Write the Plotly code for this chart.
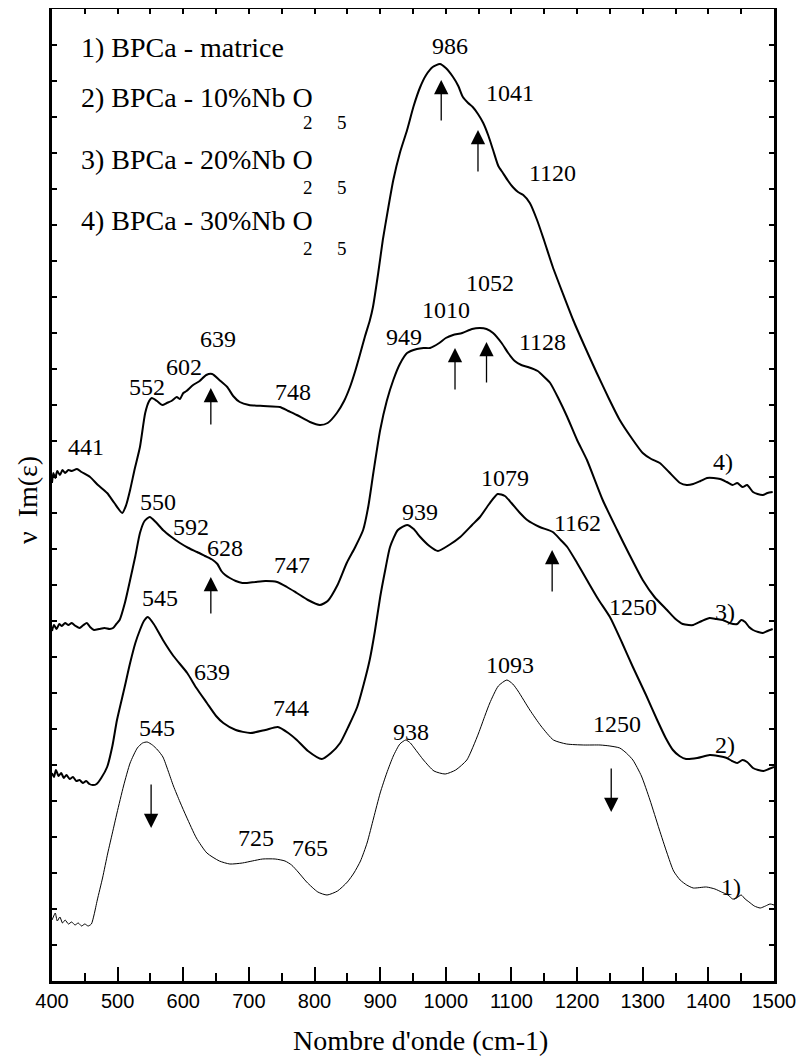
import plotly.graph_objects as go

# ---------------- data (wavenumber cm-1, intensity a.u.) ----------------
x1 = [400, 402, 405, 408, 412, 416, 420, 425, 430, 435, 440, 445, 450, 455, 460, 464, 469, 477, 485, 492, 499, 509, 519, 530, 538, 545, 553, 561, 569, 577, 585, 595, 605, 620, 636, 655, 671, 690, 705, 721, 740, 755, 765, 775, 788, 805, 819, 835, 850, 860, 870, 880, 890, 900, 910, 920, 930, 939, 946, 952, 966, 982, 999, 1015, 1032, 1042, 1050, 1060, 1067, 1080, 1093, 1102, 1110, 1128, 1145, 1164, 1184, 1210, 1235, 1250, 1265, 1275, 1285, 1298, 1311, 1325, 1337, 1347, 1357, 1367, 1377, 1397, 1410, 1420, 1430, 1437, 1443, 1450, 1456, 1462, 1470, 1479, 1487, 1494, 1500]
y1 = [61, 64, 68, 60, 64, 58, 61, 57, 59, 56, 58, 55, 57, 55, 57, 66, 81, 103, 128, 148, 168, 195, 218, 233, 238, 239, 236, 231, 224, 210, 195, 179, 164, 143, 128, 120, 117, 118, 120, 122, 122, 120, 116, 109, 99, 89, 86, 90, 99, 108, 120, 138, 163, 188, 208, 225, 237, 241, 238, 233, 221, 210, 207, 211, 221, 235, 248, 266, 278, 295, 301, 297, 290, 271, 255, 241, 237, 236, 236, 235, 233, 228, 221, 205, 181, 152, 128, 110, 101, 96, 93, 94, 92, 89, 86, 82, 83, 86, 82, 79, 75, 73, 75, 77, 76]

x2 = [400, 403, 406, 410, 414, 418, 422, 427, 432, 437, 442, 447, 452, 457, 462, 468, 475, 484, 492, 499, 510, 519, 527, 534, 540, 546, 555, 569, 585, 606, 620, 636, 650, 661, 680, 702, 725, 744, 760, 773, 790, 811, 825, 839, 852, 865, 875, 884, 892, 900, 908, 915, 927, 941, 951, 961, 975, 988, 1005, 1022, 1040, 1052, 1066, 1079, 1090, 1100, 1113, 1124, 1143, 1163, 1175, 1185, 1200, 1215, 1232, 1250, 1268, 1285, 1305, 1322, 1335, 1346, 1356, 1366, 1383, 1402, 1415, 1428, 1436, 1444, 1452, 1459, 1468, 1476, 1484, 1492, 1500]
y2 = [208, 204, 211, 205, 208, 203, 206, 202, 204, 200, 201, 198, 200, 197, 196, 197, 203, 214, 235, 261, 292, 318, 338, 351, 360, 364, 357, 341, 325, 308, 293, 278, 265, 258, 251, 248, 251, 254, 248, 241, 230, 222, 228, 238, 255, 274, 297, 321, 350, 384, 412, 434, 451, 456, 452, 444, 435, 430, 436, 444, 456, 464, 477, 487, 485, 478, 468, 461, 454, 449, 441, 434, 418, 401, 382, 364, 339, 314, 286, 261, 243, 231, 225, 222, 223, 226, 225, 223, 220, 218, 221, 219, 213, 211, 210, 212, 214]

x3 = [400, 403, 407, 411, 415, 420, 425, 430, 436, 442, 448, 453, 458, 464, 472, 480, 488, 493, 498, 503, 511, 519, 527, 534, 541, 549, 558, 569, 582, 595, 608, 621, 633, 645, 652, 658, 664, 671, 680, 690, 697, 710, 725, 743, 758, 773, 790, 808, 820, 835, 849, 862, 874, 882, 890, 900, 910, 920, 930, 941, 956, 966, 976, 990, 1000, 1011, 1025, 1040, 1052, 1062, 1072, 1085, 1095, 1105, 1115, 1125, 1140, 1150, 1159, 1172, 1185, 1200, 1215, 1239, 1261, 1280, 1300, 1318, 1337, 1350, 1361, 1370, 1377, 1390, 1402, 1412, 1422, 1432, 1444, 1450, 1456, 1462, 1468, 1476, 1483, 1490, 1498]
y3 = [350, 356, 352, 357, 355, 358, 356, 358, 355, 353, 356, 358, 354, 351, 352, 353, 352, 353, 357, 361, 378, 401, 425, 448, 460, 464, 459, 451, 444, 438, 433, 429, 425, 421, 417, 410, 406, 403, 400, 398, 398, 399, 400, 399, 394, 388, 381, 376, 380, 396, 418, 434, 451, 475, 510, 551, 580, 601, 617, 628, 632, 633, 633, 638, 643, 646, 648, 652, 653, 652, 648, 638, 628, 620, 616, 614, 610, 604, 598, 582, 564, 541, 521, 481, 451, 426, 401, 384, 371, 362, 357, 356, 356, 360, 363, 362, 361, 358, 357, 361, 359, 354, 351, 349, 348, 350, 352]

x4 = [400, 402, 405, 408, 412, 416, 420, 425, 430, 438, 445, 458, 470, 484, 495, 507, 513, 519, 526, 534, 542, 548, 552, 560, 568, 575, 582, 590, 595, 600, 605, 615, 625, 635, 644, 655, 667, 676, 686, 700, 722, 747, 760, 773, 793, 808, 820, 834, 845, 854, 862, 869, 877, 884, 889, 897, 904, 912, 920, 930, 941, 951, 961, 970, 980, 991, 1000, 1011, 1019, 1026, 1034, 1041, 1049, 1057, 1065, 1072, 1080, 1087, 1095, 1102, 1110, 1118, 1128, 1139, 1150, 1163, 1178, 1194, 1212, 1230, 1248, 1265, 1283, 1300, 1313, 1326, 1340, 1357, 1367, 1377, 1388, 1398, 1408, 1418, 1428, 1437, 1444, 1452, 1459, 1468, 1475, 1483, 1490, 1498]
y4 = [498, 508, 503, 510, 506, 511, 508, 511, 510, 512, 509, 504, 496, 488, 478, 468, 476, 491, 512, 534, 568, 580, 583, 580, 576, 578, 580, 584, 582, 588, 590, 596, 600, 606, 607, 601, 594, 585, 579, 576, 575, 574, 570, 566, 559, 556, 558, 568, 580, 594, 610, 626, 645, 660, 674, 708, 741, 772, 801, 828, 851, 875, 894, 906, 914, 917, 913, 904, 895, 884, 878, 874, 867, 858, 845, 831, 815, 808, 800, 794, 789, 786, 778, 761, 740, 714, 688, 661, 634, 608, 583, 561, 543, 528, 522, 518, 509, 498, 496, 497, 500, 503, 503, 502, 499, 496, 498, 494, 496, 489, 487, 486, 488, 489]

peak_labels = ["986", "1041", "1120", "441", "552", "602", "639", "748", "949", "1010", "1052", "1128",
               "550", "592", "628", "747", "939", "1079", "1162", "1250",
               "545", "639", "744", "545", "725", "765", "938", "1093", "1250",
               "4)", "3)", "2)", "1)"]
legend_lines = ["1) BPCa - matrice", "2) BPCa - 10%Nb O", "3) BPCa - 20%Nb O", "4) BPCa - 30%Nb O"]
x_ticks = [400, 500, 600, 700, 800, 900, 1000, 1100, 1200, 1300, 1400, 1500]

# ---------------- layout helpers (positions in data coords) ----------------
label_pos = [(1006, 935), (1098, 888), (1162, 808), (452, 534), (545, 594), (601, 614), (653, 642),
             (767, 589), (936, 644), (1000, 671), (1067, 698), (1148, 639),
             (562, 479), (612, 454), (664, 433), (766, 416), (961, 469), (1090, 503), (1200, 458), (1285, 374),
             (565, 383), (644, 309), (764, 273), (560, 253), (711, 143), (793, 133), (947, 249), (1098, 316),
             (1261, 257), (1422, 519), (1425, 369), (1425, 236), (1435, 94)]
# arrows: (x, tail_y, tip_y)
arrows = [(993, 859, 901), (1049, 808, 851), (642, 555, 593), (1014, 590, 633), (1062, 597, 639),
          (642, 366, 404), (1162, 388, 431), (551, 198, 153), (1252, 214, 169)]

serif = "'Liberation Serif', 'Times New Roman', 'DejaVu Serif', serif"
sans = "'Liberation Sans', Arial, sans-serif"
fig = go.Figure()
for xs, ys, w in [(x1, y1, 1.0), (x2, y2, 2.0), (x3, y3, 2.0), (x4, y4, 2.0)]:
    fig.add_trace(go.Scatter(x=xs, y=ys, mode="lines",
                             line=dict(color="black", width=w, shape="spline", smoothing=0.6),
                             showlegend=False, hoverinfo="skip"))
# dummy trace for top axis
fig.add_trace(go.Scatter(x=[400, 1500], y=[0, 0], xaxis="x2", mode="lines",
                         line=dict(width=0), showlegend=False, hoverinfo="skip"))

ann = []
for t, (x, y) in zip(peak_labels, label_pos):
    ann.append(dict(x=x, y=y, xref="x", yref="y", text=t, showarrow=False,
                    font=dict(family=serif, size=24, color="black"),
                    xanchor="center", yanchor="middle"))
for (x, ty, hy) in arrows:
    ann.append(dict(x=x, y=hy, ax=x, ay=ty, xref="x", yref="y", axref="x", ayref="y",
                    text="", showarrow=True, arrowhead=2, arrowsize=2.2,
                    arrowwidth=1.3, arrowcolor="black"))

leg_y = [48, 97, 159, 220]
sub_y = [123, 187, 248]
W0, H0 = 722.0, 972.0
for t, py in zip(legend_lines, leg_y):
    ann.append(dict(x=(79 - 52) / W0, y=(981 - py) / H0, xref="paper", yref="paper",
                    text=t, showarrow=False, xanchor="left", yanchor="middle",
                    font=dict(family=serif, size=28, color="black")))
for py in sub_y:
    for s, px in (("2", 308), ("5", 342)):
        ann.append(dict(x=(px - 52) / W0, y=(981 - py) / H0, xref="paper", yref="paper",
                        text=s, showarrow=False, xanchor="center", yanchor="middle",
                        font=dict(family=serif, size=19, color="black")))

ann.append(dict(x=(420 - 52) / W0, y=(981 - 1040) / H0, xref="paper", yref="paper",
                text="Nombre d'onde (cm-1)", showarrow=False, xanchor="center", yanchor="middle",
                font=dict(family=serif, size=28, color="black")))
ann.append(dict(x=(28 - 52) / W0, y=(981 - 500) / H0, xref="paper", yref="paper",
                text="ν  Im(ε)", showarrow=False, xanchor="center", yanchor="middle", textangle=-90,
                font=dict(family=serif, size=28, color="black")))

fig.update_layout(
    width=798, height=1053,
    margin=dict(l=44, r=32, t=1, b=80),
    paper_bgcolor="white", plot_bgcolor="white",
    font=dict(family=serif),
    annotations=ann,
    xaxis=dict(range=[400, 1500], tickvals=x_ticks, ticktext=[str(v) for v in x_ticks],
               ticks="inside", ticklen=14, tickwidth=2, tickcolor="black",
               minor=dict(dtick=50, ticks="inside", ticklen=8, tickwidth=2, tickcolor="black"),
               showline=True, linewidth=2.5, linecolor="black", showgrid=False, zeroline=False,
               tickfont=dict(family=sans, size=20, color="black")),
    xaxis2=dict(range=[400, 1500], overlaying="x", side="top", dtick=50, tick0=400,
                ticks="inside", ticklen=5, tickwidth=1.5, tickcolor="black", showticklabels=False,
                showline=True, linewidth=2.5, linecolor="black", showgrid=False, zeroline=False),
    yaxis=dict(range=[0, 972], dtick=36, tick0=0, ticks="inside", ticklen=5, tickwidth=1.5,
               tickcolor="black", showticklabels=False, mirror="ticks",
               showline=True, linewidth=2.5, linecolor="black", showgrid=False, zeroline=False),
)

fig.write_html("out.html")
